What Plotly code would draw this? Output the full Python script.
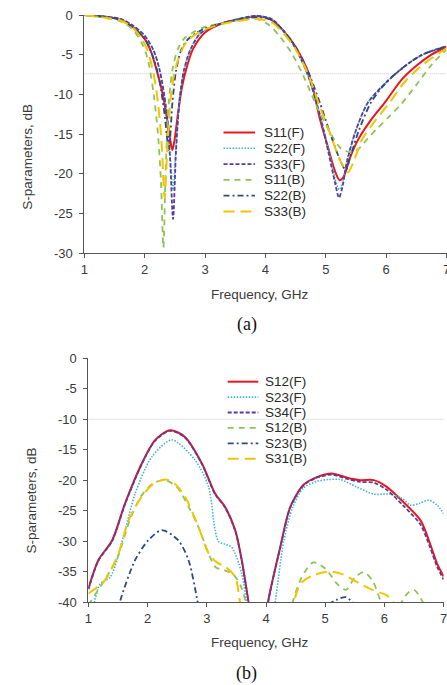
import plotly.graph_objects as go

# ---------------- (a) reflection coefficients ----------------
f_S11F = [1.0, 1.3, 1.6, 1.8, 2.0, 2.1, 2.2, 2.3, 2.38, 2.43, 2.46, 2.5, 2.55, 2.62, 2.7, 2.8, 3.0, 3.3, 3.6, 3.85,
          4.1, 4.3, 4.5, 4.7, 4.8, 4.9, 5.05, 5.15, 5.23, 5.3, 5.4, 5.55, 5.75, 6.0, 6.25, 6.5, 6.75, 7.0]
S11F = [0, -0.2, -0.6, -1.5, -3.0, -4.5, -7.0, -10.0, -13.5, -16.0, -17.0, -15.5, -12.5, -9.0, -6.5, -4.3, -2.2, -1.0, -0.5, -0.15,
        -0.6, -2.0, -4.0, -7.0, -9.6, -13.0, -17.0, -19.6, -20.8, -20.3, -18.0, -15.5, -13.2, -10.8, -8.2, -6.4, -5.0, -4.0]

f_S22F = [1.0, 1.3, 1.6, 1.8, 2.0, 2.15, 2.25, 2.35, 2.42, 2.47, 2.52, 2.58, 2.65, 2.75, 2.9, 3.1, 3.4, 3.7, 3.85,
          4.1, 4.3, 4.5, 4.7, 4.9, 5.05, 5.15, 5.22, 5.28, 5.35, 5.5, 5.7, 6.0, 6.3, 6.6, 7.0]
S22F = [0, -0.15, -0.5, -1.3, -2.6, -4.5, -7.0, -11.5, -17.5, -22.0, -16.5, -10.5, -7.0, -4.5, -2.5, -1.5, -0.8, -0.25, -0.1,
        -0.5, -2.0, -4.2, -7.5, -12.5, -17.0, -20.5, -22.0, -21.0, -18.3, -14.5, -11.0, -8.5, -6.5, -5.0, -3.9]

f_S33F = [1.0, 1.3, 1.6, 1.8, 2.0, 2.15, 2.25, 2.35, 2.42, 2.47, 2.52, 2.58, 2.65, 2.75, 2.9, 3.1, 3.4, 3.7, 3.85,
          4.1, 4.3, 4.5, 4.7, 4.9, 5.05, 5.15, 5.22, 5.28, 5.35, 5.5, 5.7, 6.0, 6.3, 6.6, 7.0]
S33F = [0, -0.15, -0.5, -1.3, -2.6, -4.5, -7.0, -11.5, -18.0, -25.7, -17.0, -10.5, -7.0, -4.5, -2.5, -1.5, -0.8, -0.25, -0.1,
        -0.5, -2.0, -4.2, -7.5, -12.5, -17.5, -21.0, -23.0, -21.5, -18.5, -14.5, -11.0, -8.5, -6.5, -5.0, -3.9]

f_S11B = [1.0, 1.3, 1.6, 1.8, 1.95, 2.05, 2.15, 2.22, 2.27, 2.31, 2.35, 2.4, 2.47, 2.55, 2.65, 2.8, 3.0, 3.3, 3.6, 3.85,
          4.05, 4.25, 4.45, 4.65, 4.85, 5.05, 5.25, 5.43, 5.55, 5.7, 5.85, 6.05, 6.25, 6.5, 6.75, 7.0]
S11B = [0, -0.3, -0.8, -1.8, -3.5, -5.5, -10.0, -15.0, -21.0, -29.3, -19.0, -11.0, -6.5, -4.3, -3.0, -2.2, -1.5, -1.0, -0.6, -0.5,
        -1.2, -2.8, -5.0, -8.0, -11.5, -14.5, -16.8, -17.3, -16.8, -15.5, -14.3, -12.8, -11.2, -8.8, -6.3, -4.3]

f_S22B = [1.0, 1.3, 1.6, 1.8, 2.0, 2.15, 2.25, 2.33, 2.4, 2.46, 2.52, 2.6, 2.7, 2.85, 3.0, 3.3, 3.6, 3.85,
          4.1, 4.3, 4.5, 4.7, 4.9, 5.1, 5.25, 5.33, 5.42, 5.55, 5.75, 6.0, 6.3, 6.6, 7.0]
S22B = [0, -0.2, -0.6, -1.5, -3.0, -5.5, -8.5, -12.5, -17.0, -11.0, -7.0, -4.5, -3.2, -2.3, -1.7, -1.0, -0.5, -0.3,
        -0.6, -2.0, -4.0, -7.0, -11.0, -15.5, -18.5, -19.5, -17.5, -14.5, -11.0, -8.5, -6.5, -5.0, -4.0]

f_S33B = [1.0, 1.3, 1.6, 1.8, 1.95, 2.05, 2.15, 2.22, 2.28, 2.33, 2.38, 2.43, 2.5, 2.6, 2.7, 2.85, 3.0, 3.3, 3.6, 3.85,
          4.1, 4.3, 4.5, 4.7, 4.9, 5.1, 5.25, 5.37, 5.47, 5.6, 5.8, 6.06, 6.3, 6.6, 7.0]
S33B = [0, -0.3, -0.7, -1.6, -3.0, -4.5, -7.5, -11.0, -16.0, -23.0, -16.0, -10.5, -7.0, -4.7, -3.3, -2.4, -1.8, -1.1, -0.7, -0.5,
        -0.9, -2.3, -4.3, -7.3, -11.5, -15.5, -18.5, -19.8, -18.3, -15.7, -13.5, -11.0, -8.5, -6.3, -4.2]

ref_a = -7.4

# ---------------- (b) transmission coefficients ----------------
f_S12F = [1.0, 1.17, 1.4, 1.62, 1.9, 2.13, 2.38, 2.63, 2.92, 3.14, 3.31, 3.48, 3.59, 3.70, 3.75, None,
          4.0, 4.04, 4.24, 4.41, 4.63, 4.86, 5.11, 5.37, 5.59, 5.82, 6.04, 6.32, 6.61, 6.77, 6.89, 7.0]
S12F = [-37.8, -33.1, -29.9, -23.8, -17.3, -13.4, -11.8, -12.9, -17.3, -22.2, -24.4, -28.2, -33.1, -39.7, -43, None,
        -43, -39.7, -31.0, -24.4, -20.8, -19.5, -18.9, -19.6, -20.0, -20.0, -21.1, -23.6, -26.6, -30.4, -33.7, -35.8]

f_S23F = [1.05, 1.11, 1.2, 1.37, 1.62, 1.79, 2.07, 2.41, 2.8, 3.03, 3.14, 3.2, 3.3, 3.42, 3.59, 3.67, 3.72, None,
          4.1, 4.16, 4.3, 4.45, 4.63, 4.86, 5.05, 5.25, 5.53, 5.82, 6.1, 6.3, 6.44, 6.6, 6.75, 6.89, 7.0]
S23F = [-43, -39.7, -37.0, -35.9, -28.2, -22.2, -16.2, -13.4, -16.7, -21.1, -28.2, -30.1, -30.5, -31.0, -35.3, -40, -43, None,
        -43, -39.7, -30.0, -24.5, -21.3, -20.2, -19.9, -19.9, -21.1, -22.3, -22.3, -23.0, -24.1, -23.8, -23.3, -24.1, -25.5]

f_S34F = [1.0, 1.17, 1.4, 1.62, 1.9, 2.13, 2.38, 2.63, 2.92, 3.14, 3.31, 3.48, 3.59, 3.70, 3.75, None,
          4.0, 4.04, 4.24, 4.41, 4.63, 4.86, 5.11, 5.37, 5.59, 5.82, 6.04, 6.32, 6.61, 6.77, 6.89, 7.0]
S34F = [-37.9, -33.2, -30.0, -23.9, -17.4, -13.5, -11.9, -13.0, -17.4, -22.3, -24.5, -28.3, -33.2, -39.8, -43, None,
        -43, -39.8, -31.1, -24.5, -20.9, -19.6, -19.1, -19.8, -20.3, -20.4, -21.6, -24.2, -27.3, -31.0, -34.2, -36.3]

f_S12B = [1.0, 1.1, 1.3, 1.5, 1.7, 1.9, 2.1, 2.3, 2.5, 2.7, 2.85, 2.95, 3.05, 3.15, 3.3, 3.45, 3.58, 3.66, 3.7, None,
          4.4, 4.45, 4.6, 4.8, 5.0, 5.2, 5.35, 5.5, 5.65, 5.8, 5.95, 6.1, 6.25, 6.4, 6.5, 6.62, 6.72]
S12B = [-40.5, -39.0, -36.0, -32.5, -26.5, -22.5, -20.5, -20.0, -21.2, -24.5, -27.5, -30.0, -32.5, -34.3, -34.8, -35.5, -37.5, -40, -42, None,
        -42, -40, -36.0, -33.5, -34.5, -37.0, -38.0, -36.0, -35.1, -36.5, -40, -41.5, -40.5, -38.5, -38.0, -39.5, -41.5]

f_S23B = [1.48, 1.54, 1.79, 2.01, 2.24, 2.52, 2.69, 2.83, 2.88, None,
          4.6, 4.75, 5.0, 5.2, 5.35, 5.5]
S23B = [-42, -39.7, -33.1, -29.9, -28.2, -29.9, -33.1, -39.2, -42, None,
        -41, -40.2, -40.5, -39.6, -39.2, -40.5]

f_S31B = [1.0, 1.28, 1.51, 1.68, 1.9, 2.1, 2.3, 2.45, 2.63, 2.86, 3.03, 3.17, 3.31, 3.48, 3.56, 3.6, None,
          4.4, 4.47, 4.58, 4.8, 5.1, 5.31, 5.48, 5.59, 5.82, 6.04, 6.15, 6.2]
S31B = [-38.6, -36.4, -32.0, -26.6, -22.7, -20.6, -19.9, -20.5, -22.7, -27.7, -32.0, -33.5, -34.2, -35.9, -40, -42, None,
        -42, -40, -37.0, -35.6, -35.0, -35.5, -36.4, -37.0, -38.1, -38.9, -40, -41]

ref_b = -10

# ---------------- ticks / labels ----------------
x_ticks = [1, 2, 3, 4, 5, 6, 7]
y_ticks_a = [0, -5, -10, -15, -20, -25, -30]
y_labels_a = ["0", "-5", "-10", "-15", "-20", "-25", "-30"]
y_ticks_b = [0, -5, -10, -15, -20, -25, -30, -35, -40]
y_labels_b = ["0", "-5", "-10", "-15", "-20", "-25", "-30", "-35", "-40"]
names_a = ["S11(F)", "S22(F)", "S33(F)", "S11(B)", "S22(B)", "S33(B)"]
names_b = ["S12(F)", "S23(F)", "S34(F)", "S12(B)", "S23(B)", "S31(B)"]

# ---------------- styles ----------------
RED = "#E8161E"
CYAN = "#3CB6D3"
PURPLE = "#5A3C9C"
GREEN = "#8DC455"
NAVY = "#2E4B7C"
YELLOW = "#F3C400"
styles = [
    dict(color=RED, width=2.0, dash="solid"),
    dict(color=CYAN, width=1.6, dash="1.5px,1.5px"),
    dict(color=PURPLE, width=1.8, dash="4px,2px"),
    dict(color=GREEN, width=1.8, dash="6px,5px"),
    dict(color=NAVY, width=1.8, dash="6px,3px,2px,3px"),
    dict(color=YELLOW, width=2.0, dash="11px,6px"),
]

FONT = "Liberation Sans, Arial, sans-serif"
SERIF = "Liberation Serif, Times New Roman, serif"
W, H = 447, 685


def px_x(p):
    return p / W


def px_y(p):
    return 1 - p / H


fig = go.Figure()

# reference lines
fig.add_trace(go.Scatter(x=[1, 7], y=[ref_a, ref_a], mode="lines", showlegend=False, hoverinfo="skip",
                         line=dict(color="#C8C8C8", width=1, dash="1px,1px"), xaxis="x", yaxis="y"))
fig.add_trace(go.Scatter(x=[1, 7], y=[ref_b, ref_b], mode="lines", showlegend=False, hoverinfo="skip",
                         line=dict(color="#C8C8C8", width=1, dash="1px,1px"), xaxis="x2", yaxis="y2"))

series_a = [(f_S11F, S11F), (f_S22F, S22F), (f_S33F, S33F), (f_S11B, S11B), (f_S22B, S22B), (f_S33B, S33B)]
series_b = [(f_S12F, S12F), (f_S23F, S23F), (f_S34F, S34F), (f_S12B, S12B), (f_S23B, S23B), (f_S31B, S31B)]

for (fx, fy), name, st in zip(series_a, names_a, styles):
    fig.add_trace(go.Scatter(x=fx, y=fy, name=name, mode="lines", showlegend=False,
                             line=dict(shape="spline", smoothing=0.8, **st), xaxis="x", yaxis="y"))
for (fx, fy), name, st in zip(series_b, names_b, styles):
    fig.add_trace(go.Scatter(x=fx, y=fy, name=name, mode="lines", showlegend=False, connectgaps=False,
                             line=dict(shape="spline", smoothing=0.8, **st), xaxis="x2", yaxis="y2"))

# ---------------- compact legends (Excel-like row spacing) ----------------
shapes = []
annotations = []
legend_specs = [
    (names_a, 223.5, 255.0, 263.0, 132.5, 15.8),
    (names_b, 227.7, 258.3, 264.3, 381.7, 15.4),
]
for names, lx0, lx1, tx, y0, dy in legend_specs:
    for i, (name, st) in enumerate(zip(names, styles)):
        yy = y0 + i * dy
        shapes.append(dict(type="line", xref="paper", yref="paper", x0=px_x(lx0), x1=px_x(lx1),
                           y0=px_y(yy), y1=px_y(yy), line=dict(color=st["color"], width=st["width"], dash=st["dash"])))
        annotations.append(dict(text=name, x=px_x(tx), y=px_y(yy), xref="paper", yref="paper",
                                xanchor="left", yanchor="middle", showarrow=False, borderpad=0,
                                font=dict(family=FONT, size=13.5, color="#2a2a2a")))


def label(text, x, y, angle=0, family=FONT, size=13.5, color="#3a3a3a"):
    return dict(text=text, x=px_x(x), y=px_y(y), xref="paper", yref="paper", textangle=angle,
                xanchor="center", yanchor="middle", showarrow=False, font=dict(family=family, size=size, color=color))


annotations += [
    label("S-parameters, dB", 26.7, 157, angle=-90),
    label("Frequency, GHz", 260, 294),
    label("(a)", 246.7, 324, family=SERIF, size=18, color="#111111"),
    label("S-parameters, dB", 31.7, 500.7, angle=-90),
    label("Frequency, GHz", 260, 642.7),
    label("(b)", 246.7, 673, family=SERIF, size=18, color="#111111"),
]

axis_common = dict(showgrid=False, zeroline=False, showline=True, linecolor="#555555", linewidth=1,
                   ticks="outside", ticklen=4, tickcolor="#555555", tickwidth=1,
                   tickfont=dict(family=FONT, size=13, color="#3a3a3a"))

fig.update_layout(
    width=W, height=H,
    margin=dict(l=0, r=0, t=0, b=0, autoexpand=False),
    paper_bgcolor="white", plot_bgcolor="white",
    showlegend=False,
    xaxis=dict(domain=[px_x(84.3), px_x(446.5)], range=[1, 7], tickvals=x_ticks, anchor="y",
               ticklabeloverflow="allow", **axis_common),
    yaxis=dict(domain=[px_y(253.3), px_y(15)], range=[-30, 0], tickvals=y_ticks_a, ticktext=y_labels_a,
               anchor="x", ticklabelstandoff=4, **axis_common),
    xaxis2=dict(domain=[px_x(88.4), px_x(443.6)], range=[1, 7], tickvals=x_ticks, anchor="y2",
                ticklabeloverflow="allow", **axis_common),
    yaxis2=dict(domain=[px_y(602), px_y(358.3)], range=[-40, 0], tickvals=y_ticks_b, ticktext=y_labels_b,
                anchor="x2", ticklabelstandoff=4, **axis_common),
    shapes=shapes,
    annotations=annotations,
)

fig.write_html("out.html", config={"displayModeBar": False},
               post_script="document.body.style.margin='0px';")
